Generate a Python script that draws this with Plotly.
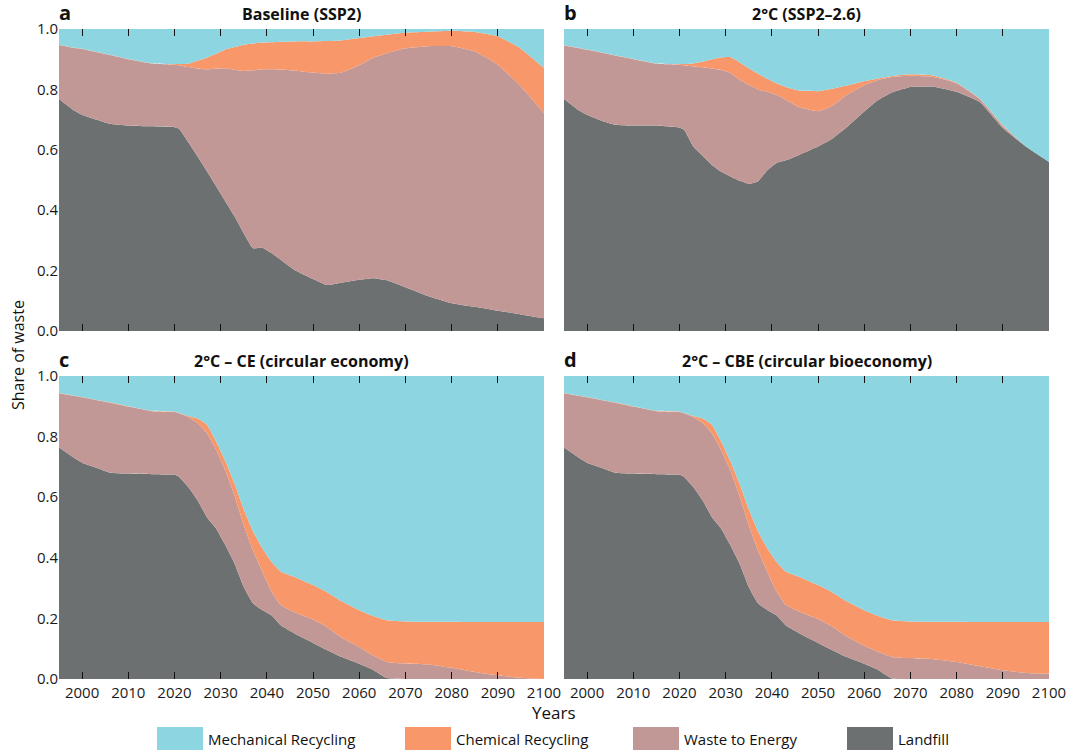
import plotly.graph_objects as go

# ---------------- data ----------------
years = [1995, 1998, 2000, 2003, 2006, 2010, 2015, 2020, 2021, 2023, 2025, 2027,
         2029, 2031, 2033, 2035, 2037, 2039, 2041, 2043, 2046, 2050, 2053, 2056,
         2060, 2063, 2066, 2070, 2075, 2080, 2085, 2090, 2095, 2100]

categories = ["Mechanical Recycling", "Chemical Recycling", "Waste to Energy", "Landfill"]
colors = ["#8dd5e0", "#f7976a", "#c29896", "#6d7070"]

panel_letters = ["a", "b", "c", "d"]
panel_titles = ["Baseline (SSP2)", "2°C (SSP2–2.6)",
                "2°C – CE (circular economy)", "2°C – CBE (circular bioeconomy)"]

# cumulative upper boundaries of the stacked shares (landfill, +waste to energy, +chemical)
a_landfill = [0.768, 0.733, 0.716, 0.700, 0.686, 0.680, 0.678, 0.675, 0.670, 0.625, 0.578, 0.530,
              0.480, 0.430, 0.380, 0.324, 0.274, 0.276, 0.258, 0.236, 0.202, 0.172, 0.152, 0.160,
              0.170, 0.175, 0.168, 0.145, 0.115, 0.092, 0.080, 0.067, 0.055, 0.042]
a_wte = [0.947, 0.938, 0.934, 0.924, 0.914, 0.900, 0.886, 0.882, 0.880, 0.874, 0.869, 0.866,
         0.869, 0.870, 0.865, 0.861, 0.863, 0.867, 0.867, 0.866, 0.862, 0.856, 0.852, 0.855,
         0.880, 0.905, 0.920, 0.936, 0.943, 0.943, 0.926, 0.882, 0.810, 0.722]
a_chem = [0.948, 0.939, 0.935, 0.925, 0.915, 0.901, 0.887, 0.884, 0.884, 0.885, 0.895, 0.905,
          0.918, 0.932, 0.940, 0.948, 0.952, 0.955, 0.956, 0.958, 0.959, 0.959, 0.960, 0.962,
          0.970, 0.976, 0.981, 0.988, 0.991, 0.994, 0.990, 0.976, 0.935, 0.871]

b_landfill = [0.768, 0.733, 0.716, 0.697, 0.683, 0.680, 0.680, 0.674, 0.666, 0.611, 0.580, 0.550,
              0.528, 0.512, 0.498, 0.487, 0.496, 0.532, 0.556, 0.565, 0.584, 0.611, 0.636, 0.672,
              0.727, 0.765, 0.790, 0.808, 0.809, 0.792, 0.758, 0.672, 0.611, 0.560]
b_wte = [0.945, 0.937, 0.931, 0.922, 0.912, 0.900, 0.885, 0.882, 0.880, 0.876, 0.873, 0.869,
         0.864, 0.855, 0.832, 0.815, 0.800, 0.792, 0.782, 0.766, 0.741, 0.728, 0.745, 0.780,
         0.814, 0.831, 0.841, 0.845, 0.841, 0.820, 0.768, 0.680, 0.611, 0.560]
b_chem = [0.946, 0.938, 0.932, 0.923, 0.913, 0.901, 0.886, 0.884, 0.884, 0.886, 0.892, 0.900,
          0.906, 0.907, 0.890, 0.870, 0.852, 0.835, 0.820, 0.808, 0.796, 0.794, 0.802, 0.812,
          0.827, 0.836, 0.844, 0.850, 0.846, 0.822, 0.770, 0.682, 0.611, 0.560]

c_landfill = [0.764, 0.733, 0.714, 0.698, 0.681, 0.678, 0.676, 0.674, 0.667, 0.634, 0.590, 0.535,
              0.497, 0.442, 0.381, 0.304, 0.250, 0.228, 0.210, 0.177, 0.150, 0.119, 0.096, 0.074,
              0.050, 0.030, 0.003, 0.000, 0.000, 0.000, 0.000, 0.000, 0.000, 0.000]
c_wte = [0.943, 0.935, 0.930, 0.921, 0.912, 0.899, 0.884, 0.881, 0.877, 0.864, 0.845, 0.812,
         0.757, 0.690, 0.606, 0.508, 0.425, 0.356, 0.290, 0.245, 0.220, 0.196, 0.172, 0.139,
         0.106, 0.078, 0.056, 0.051, 0.048, 0.037, 0.023, 0.012, 0.004, 0.000]
c_chem = [0.944, 0.936, 0.931, 0.922, 0.913, 0.900, 0.885, 0.882, 0.878, 0.868, 0.860, 0.840,
          0.785, 0.720, 0.645, 0.560, 0.488, 0.432, 0.387, 0.355, 0.337, 0.310, 0.287, 0.258,
          0.227, 0.208, 0.194, 0.190, 0.189, 0.189, 0.188, 0.188, 0.188, 0.188]

d_landfill = [0.764, 0.733, 0.714, 0.698, 0.681, 0.678, 0.676, 0.674, 0.667, 0.634, 0.590, 0.535,
              0.497, 0.442, 0.381, 0.304, 0.250, 0.228, 0.210, 0.177, 0.150, 0.119, 0.096, 0.074,
              0.050, 0.030, 0.002, 0.000, 0.000, 0.000, 0.000, 0.000, 0.000, 0.000]
d_wte = [0.943, 0.935, 0.930, 0.921, 0.912, 0.899, 0.884, 0.881, 0.877, 0.864, 0.845, 0.812,
         0.757, 0.690, 0.606, 0.508, 0.425, 0.356, 0.290, 0.245, 0.222, 0.198, 0.174, 0.143,
         0.110, 0.090, 0.073, 0.069, 0.065, 0.056, 0.042, 0.029, 0.020, 0.018]
d_chem = [0.944, 0.936, 0.931, 0.922, 0.913, 0.900, 0.885, 0.882, 0.878, 0.868, 0.860, 0.840,
          0.785, 0.720, 0.645, 0.560, 0.488, 0.432, 0.387, 0.355, 0.337, 0.310, 0.287, 0.258,
          0.227, 0.208, 0.194, 0.190, 0.189, 0.189, 0.188, 0.188, 0.188, 0.188]

total_share = [1.0] * len(years)

x_ticks = [2000, 2010, 2020, 2030, 2040, 2050, 2060, 2070, 2080, 2090, 2100]
y_ticks = [0.0, 0.2, 0.4, 0.6, 0.8, 1.0]

panels = [
    (a_landfill, a_wte, a_chem),
    (b_landfill, b_wte, b_chem),
    (c_landfill, c_wte, c_chem),
    (d_landfill, d_wte, d_chem),
]

# ---------------- layout geometry ----------------
W, H = 1074, 754
FONT = "Open Sans"
INVISIBLE = "rgba(0,0,0,0)"
x_domains = [[59 / W, 544 / W], [564 / W, 1049 / W]]
y_domains = [[1 - 331 / H, 1 - 29 / H], [1 - 679 / H, 1 - 376 / H]]

fig = go.Figure()

for i, (lf, wte, chem) in enumerate(panels):
    sfx = "" if i == 0 else str(i + 1)
    xa, ya = "x" + sfx, "y" + sfx
    bounds = [lf, wte, chem, total_share]
    names = categories[::-1]
    cols = colors[::-1]
    for k, (yy, nm, cl) in enumerate(zip(bounds, names, cols)):
        fig.add_trace(go.Scatter(
            x=years, y=yy, name=nm, xaxis=xa, yaxis=ya,
            mode="lines", line=dict(width=0, color=cl, shape="spline", smoothing=0.4),
            fill="tozeroy" if k == 0 else "tonexty", fillcolor=cl,
            showlegend=False, hoverinfo="skip"))

layout = dict(
    width=W, height=H,
    margin=dict(l=0, r=0, t=0, b=0, autoexpand=False),
    paper_bgcolor="white", plot_bgcolor="white",
    font=dict(family=FONT, size=15, color="#1a1a1a"),
    showlegend=False,
)

for i in range(4):
    sfx = "" if i == 0 else str(i + 1)
    col = i % 2
    row = i // 2
    layout["xaxis" + sfx] = dict(
        domain=x_domains[col], anchor="y" + sfx, range=[1995, 2100], automargin=False,
        tickvals=x_ticks, ticks="inside", ticklen=7, tickwidth=1, tickcolor="#111",
        mirror="ticks", showline=True, linecolor=INVISIBLE, linewidth=1,
        showgrid=False, zeroline=False,
        showticklabels=(row == 1), tickfont=dict(size=15, family=FONT),
        layer="above traces")
    layout["yaxis" + sfx] = dict(
        domain=y_domains[row], anchor="x" + sfx, range=[0, 1], automargin=False,
        tickvals=y_ticks, tickformat=".1f", ticks="", showline=False,
        showgrid=False, zeroline=False, showticklabels=(col == 0),
        tickfont=dict(size=15, family=FONT))
    # right-side inward tick marks
    layout["yaxis" + str(i + 5)] = dict(
        overlaying="y" + sfx, anchor="x" + sfx, side="right", range=[0, 1],
        automargin=False,
        tickvals=y_ticks, ticks="inside", ticklen=7, tickwidth=1, tickcolor="#111",
        showticklabels=False, showgrid=False, zeroline=False,
        showline=True, linecolor=INVISIBLE, linewidth=1,
        layer="above traces")

annotations = []
for i in range(4):
    col = i % 2
    row = i // 2
    x0, x1 = x_domains[col]
    ytop = y_domains[row][1]
    annotations.append(dict(
        x=x0 - 2 / W, y=ytop + 1 / H, xref="paper", yref="paper", xanchor="left",
        yanchor="bottom",
        text="<b>" + panel_letters[i] + "</b>", showarrow=False,
        font=dict(size=20, family=FONT, color="#111")))
    annotations.append(dict(
        x=(x0 + x1) / 2, y=ytop + 2 / H, xref="paper", yref="paper", xanchor="center",
        yanchor="bottom", text="<b>" + panel_titles[i] + "</b>", showarrow=False,
        font=dict(size=16, family=FONT, color="#111")))

annotations.append(dict(
    x=18 / W, y=1 - 355 / H, xref="paper", yref="paper", xanchor="center", yanchor="middle",
    text="Share of waste", textangle=-90, showarrow=False,
    font=dict(size=16, family=FONT, color="#111")))
annotations.append(dict(
    x=554 / W, y=1 - 712 / H, xref="paper", yref="paper", xanchor="center", yanchor="middle",
    text="Years", showarrow=False, font=dict(size=17, family=FONT, color="#111")))

# legend (swatches + labels)
legend_x = [157, 405, 633, 847]
shapes = []
for lx, nm, cl in zip(legend_x, categories, colors):
    shapes.append(dict(type="rect", xref="paper", yref="paper",
                       x0=lx / W, x1=(lx + 46) / W, y0=1 - 750 / H, y1=1 - 727 / H,
                       fillcolor=cl, line=dict(width=0)))
    annotations.append(dict(
        x=(lx + 49) / W, y=1 - 739 / H, xref="paper", yref="paper", xanchor="left",
        yanchor="middle", text=nm, showarrow=False,
        font=dict(size=15, family=FONT, color="#111")))

layout["annotations"] = annotations
layout["shapes"] = shapes
fig.update_layout(**layout)

fig.write_html("out.html",
               config={"displayModeBar": False},
               post_script="document.body.style.margin='0';"
                           "document.body.style.overflow='hidden';")
